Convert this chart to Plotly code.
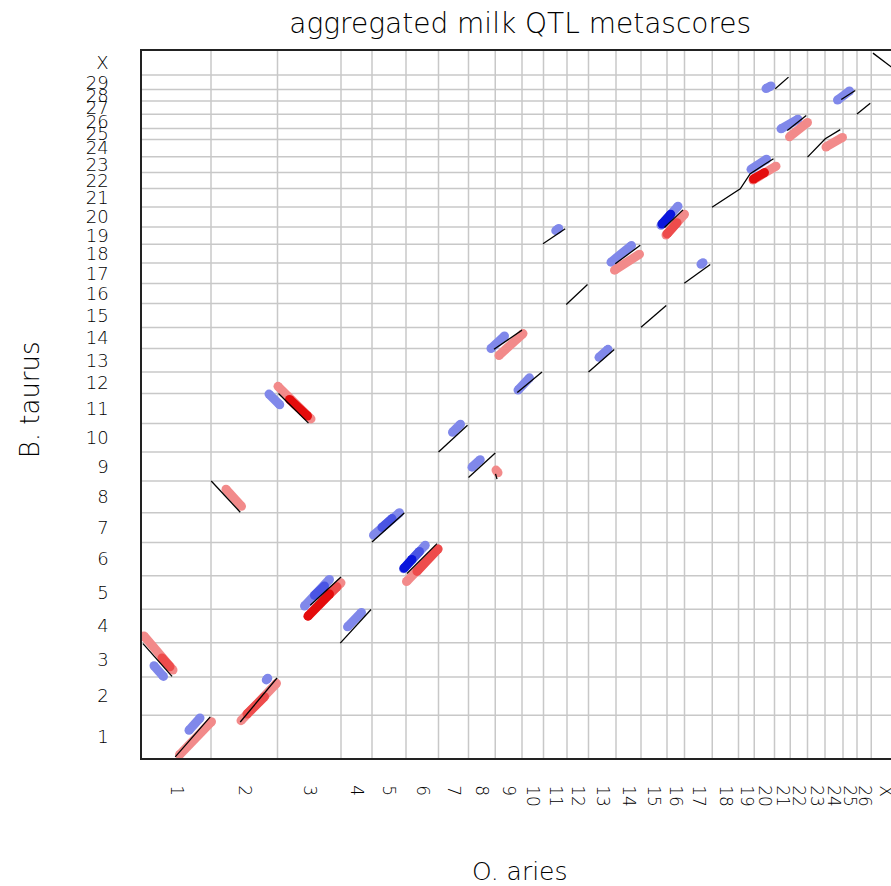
import numpy as np
import plotly.graph_objects as go

# ---------------- data ----------------
sheep_chroms = [str(i) for i in range(1, 27)] + ["X"]
sheep_lengths = [276, 266, 254, 124, 136, 130, 120, 107, 107, 86, 94, 86, 110, 100,
                 104, 70, 111, 105, 63, 81, 63, 69, 70, 72, 56, 57, 112]
cattle_chroms = [str(i) for i in range(1, 30)] + ["X"]
cattle_lengths = [160, 144, 128, 126, 126, 124, 112, 119, 109, 107, 112, 81, 88, 79, 90,
                  75, 77, 70, 65, 75, 69, 60, 59, 65, 41, 54, 49, 44, 54, 90]

# synteny blocks (genome-wide coordinates: O. aries x, B. taurus y)
syn_x = [[4, 120], [133, 273], [393, 540], [277, 393], [546, 666], [673, 796],
         [793, 916], [920, 1049], [1060, 1180], [1186, 1302], [1306, 1413],
         [1414, 1420], [1408, 1520], [1501, 1600], [1604, 1693], [1697, 1782],
         [1786, 1889], [1893, 1993], [1996, 2097], [2090, 2164], [2169, 2273],
         [2280, 2393, 2433, 2526], [2533, 2586], [2581, 2657], [2662, 2733, 2793],
         [2797, 2853], [2860, 2913], [2924, 3020]]
syn_y = [[429, 306], [4, 154], [135, 300], [1039, 922], [1367, 1256], [573, 679],
         [431, 557], [810, 919], [692, 804], [1148, 1248], [1052, 1144],
         [1066, 1046], [1533, 1605], [1371, 1448], [1929, 1985], [1701, 1776],
         [1448, 1532], [1854, 1923], [1616, 1697], [1990, 2056], [1781, 1851],
         [2066, 2135, 2192, 2248], [2510, 2554], [2354, 2410], [2254, 2323, 2357],
         [2470, 2504], [2416, 2456], [2644, 2576]]

# QTL metascore bars: kind, intensity level, start, end
bar_kind = (["blue"] * 21 + ["blue"] * 5 + ["red"] * 14 + ["red"] * 8)
bar_level = ([0] * 21 + [1, 2, 1, 2, 1] + [0] * 14 + [1, 1, 2, 2, 1, 1, 1, 2])
bar_x0 = [48, 188, 497, 508, 650, 822, 926, 1046, 1242, 1320, 1396, 1504, 1655, 1828,
          1876, 2076, 2236, 2436, 2496, 2556, 2782,
          690, 1048, 1080, 2080, 960,
          8, 150, 396, 336, 544, 664, 1058, 1416, 1428, 1890, 2096, 2444, 2590, 2736,
          80, 420, 590, 664, 750, 1100, 2100, 2446]
bar_y0 = [346, 104, 293, 1365, 570, 492, 836, 710, 1222, 1091, 1536, 1380, 1978, 1503,
          1860, 1998, 1852, 2208, 2511, 2360, 2468,
          610, 712, 745, 2003, 865,
          458, 12, 140, 1008, 1394, 532, 662, 1080, 1510, 1830, 1962, 2168, 2330, 2292,
          375, 165, 1345, 532, 615, 700, 1966, 2172]
bar_x1 = [86, 232, 503, 551, 750, 878, 1030, 1133, 1274, 1353, 1450, 1550, 1667, 1864,
          1958, 2144, 2244, 2498, 2516, 2624, 2830,
          730, 1080, 1110, 2115, 1000,
          124, 278, 538, 398, 676, 796, 1184, 1424, 1524, 1990, 2170, 2536, 2662, 2802,
          112, 490, 662, 750, 780, 1184, 2140, 2490]
bar_y1 = [306, 150, 299, 1325, 670, 546, 920, 798, 1252, 1119, 1583, 1426, 1986, 1533,
          1922, 2070, 1858, 2246, 2521, 2396, 2502,
          645, 745, 775, 2040, 898,
          330, 136, 280, 944, 1272, 657, 784, 1070, 1592, 1890, 2040, 2220, 2384, 2328,
          342, 230, 1283, 615, 642, 784, 2008, 2196]

palette = {
    ("blue", 0): "#8088ea", ("blue", 1): "#4a55e4", ("blue", 2): "#0a16dc",
    ("red", 0): "#f28a8a", ("red", 1): "#ee4c4c", ("red", 2): "#e40c0c",
}

# ---------------- figure ----------------
sheep_bounds = np.cumsum([0] + sheep_lengths)
sheep_centers = (sheep_bounds[:-1] + sheep_bounds[1:]) / 2
cattle_bounds = np.cumsum([0] + cattle_lengths)
cattle_centers = (cattle_bounds[:-1] + cattle_bounds[1:]) / 2

FONT = "DejaVu Sans"
fig = go.Figure()

for level in (0, 1, 2):
    for kind in ("blue", "red"):
        xs, ys = [], []
        for k, lv, a, b, c, d in zip(bar_kind, bar_level, bar_x0, bar_y0, bar_x1, bar_y1):
            if k == kind and lv == level:
                xs += [a, c, None]
                ys += [b, d, None]
        if not xs:
            continue
        col = palette[(kind, level)]
        fig.add_trace(go.Scatter(x=xs, y=ys, mode="lines+markers",
                                 line=dict(color=col, width=9),
                                 marker=dict(color=col, size=9, line=dict(width=0)),
                                 hoverinfo="skip", showlegend=False))

sx, sy = [], []
for xx, yy in zip(syn_x, syn_y):
    sx += xx + [None]
    sy += yy + [None]
fig.add_trace(go.Scatter(x=sx, y=sy, mode="lines", line=dict(color="black", width=1.3),
                         hoverinfo="skip", showlegend=False))

grid_col = "#c8c8c8"
for b in sheep_bounds[1:-1]:
    fig.add_shape(type="line", xref="x", yref="paper", x0=b, x1=b, y0=0, y1=1,
                  line=dict(color=grid_col, width=1.5), layer="below")
for b in cattle_bounds[1:-1]:
    fig.add_shape(type="line", xref="paper", yref="y", x0=0, x1=1, y0=b, y1=b,
                  line=dict(color=grid_col, width=1.5), layer="below")

fig.update_layout(
    width=891, height=886,
    margin=dict(l=142, r=0, t=51, b=128, autoexpand=False),
    plot_bgcolor="white", paper_bgcolor="white",
    font=dict(family=FONT, color="#000", weight=300),
    title=dict(text="aggregated milk QTL metascores", x=0.505, xanchor="center",
               xref="paper", y=1 - 23 / 886, yanchor="middle", yref="container",
               automargin=False, font=dict(size=28, family=FONT, weight=300)),
    xaxis=dict(range=[0, 2996], tickvals=sheep_centers, ticktext=sheep_chroms,
               tickangle=90, showgrid=False, zeroline=False, showline=True, mirror=True,
               linecolor="#222", linewidth=1.5, ticks="", tickfont=dict(size=17),
               ticklabelstandoff=22, automargin=False, ticklabeloverflow="allow"),
    yaxis=dict(range=[0, 2652], tickvals=cattle_centers, ticktext=cattle_chroms,
               showgrid=False, zeroline=False, showline=True, mirror=False,
               linecolor="#222", linewidth=1.5, ticks="", tickfont=dict(size=18),
               ticklabelstandoff=28, automargin=False, ticklabeloverflow="allow"),
    annotations=[
        dict(text="O. aries", xref="paper", yref="paper", x=0.505, y=-(871 - 757.7) / 707,
             xanchor="center", yanchor="middle", showarrow=False, font=dict(size=25)),
        dict(text="B. taurus", xref="paper", yref="paper", x=(30 - 142) / 749,
             y=(757.7 - 400) / 707, xanchor="center", yanchor="middle", textangle=-90,
             showarrow=False, font=dict(size=26)),
    ],
)

fig.write_html("out.html", config={"displayModeBar": False},
               post_script="document.body.style.margin='0';"
               "document.body.style.overflow='hidden';")
